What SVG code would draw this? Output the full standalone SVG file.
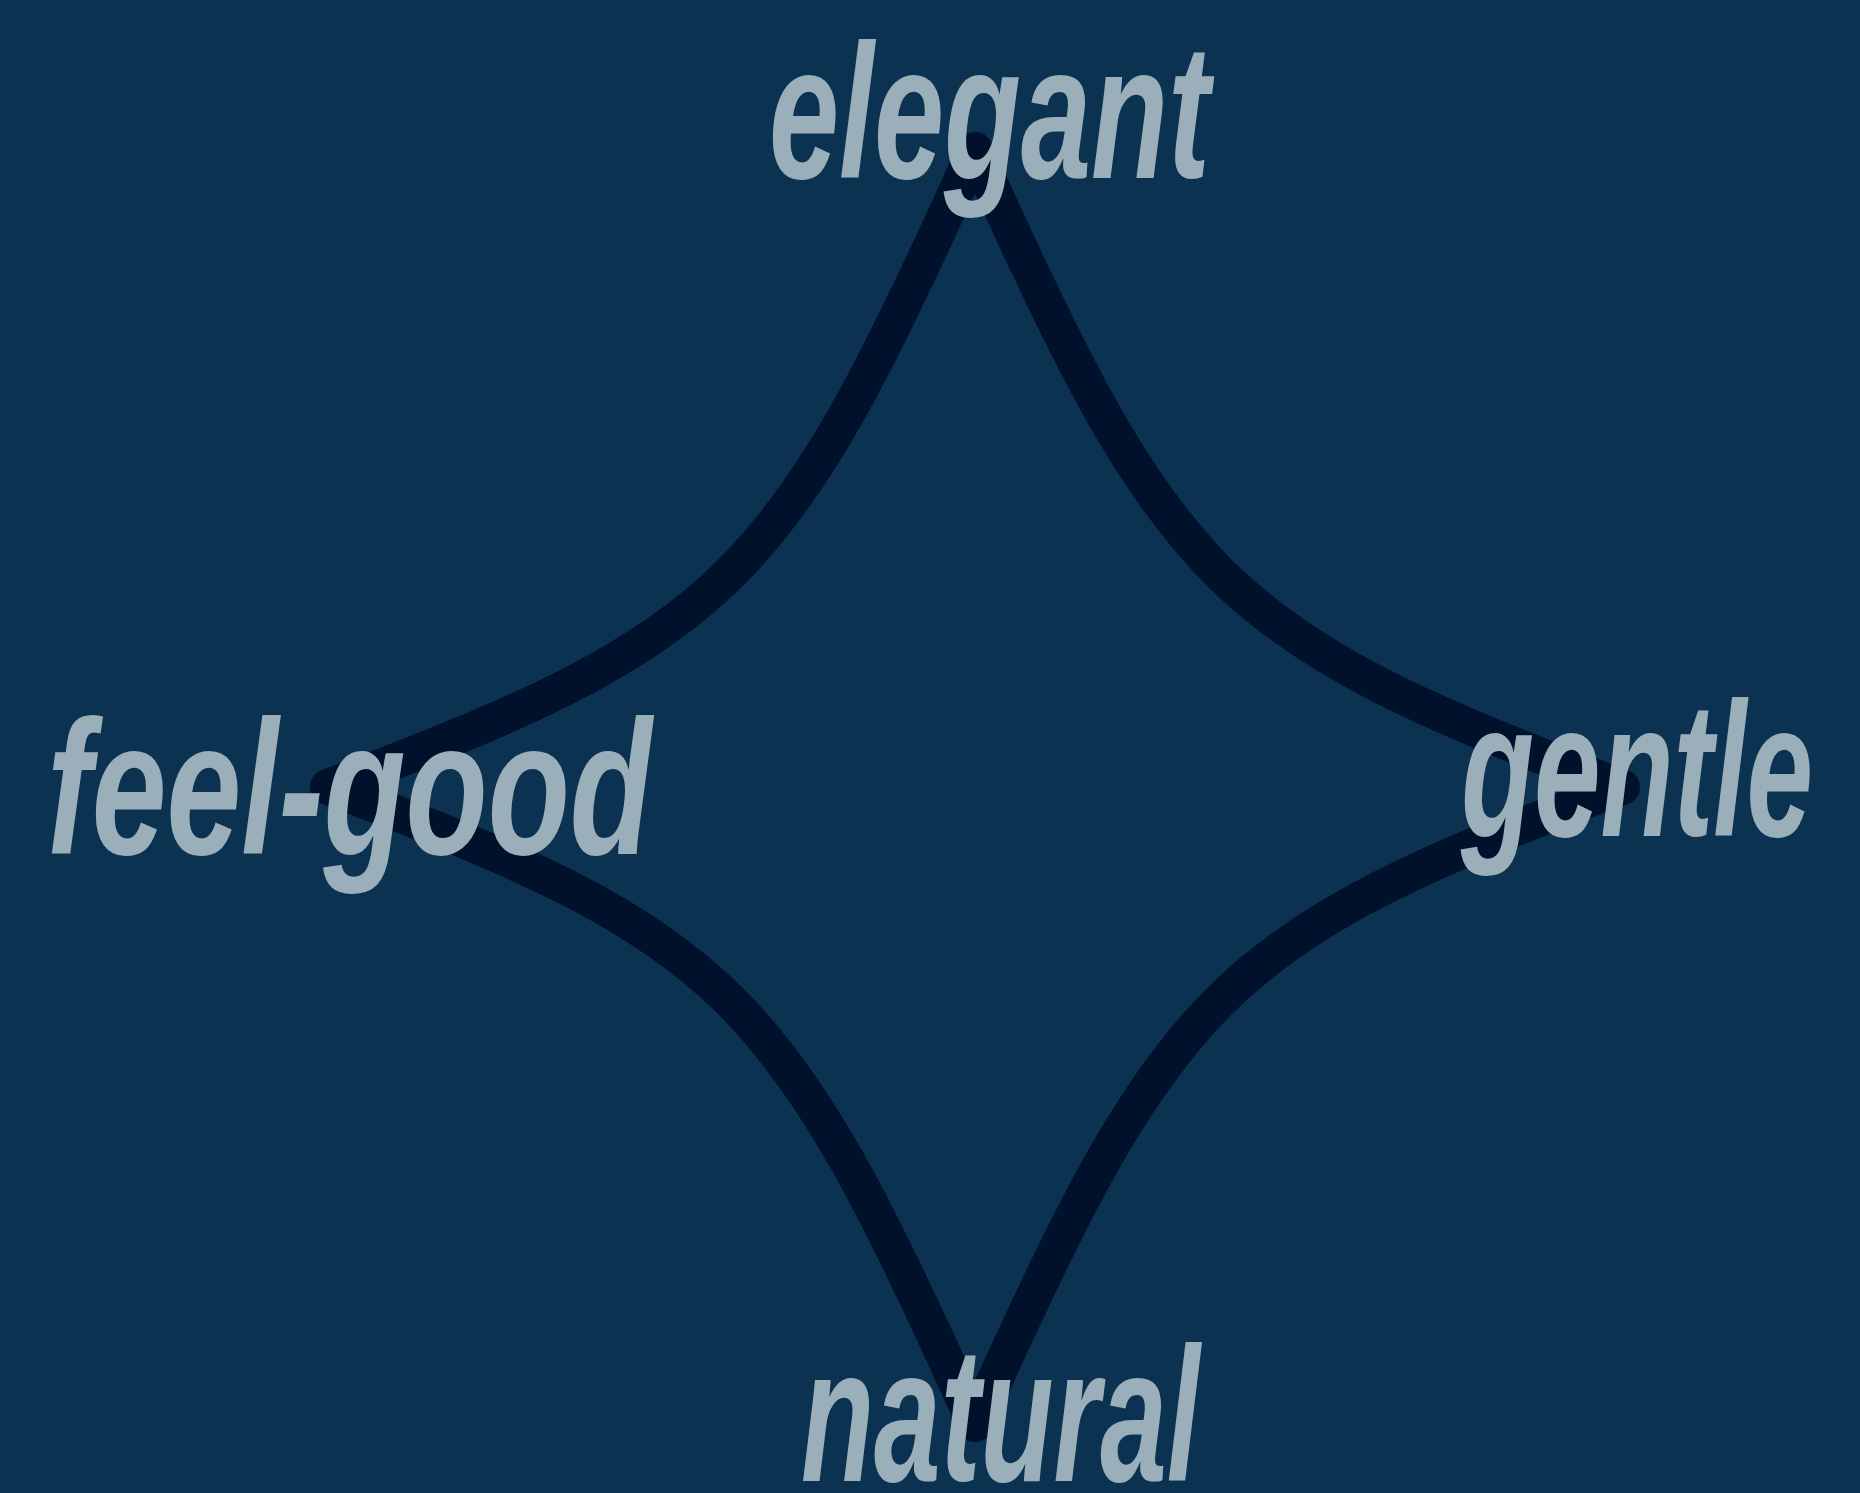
<svg xmlns="http://www.w3.org/2000/svg" width="1860" height="1493" viewBox="0 0 1860 1493">
<style>
.bg{fill:#0b3250}
.star{fill:none;stroke:#00112b;stroke-width:36;stroke-linejoin:round;stroke-linecap:round}
.lbl{fill:#9aafb9;font-family:"Liberation Sans","DejaVu Sans",sans-serif;font-size:192px;font-weight:bold;font-style:italic}
</style>
<rect class="bg" x="0" y="0" width="1860" height="1493"/>
<g id="connectors">
<path class="star" d="M 975 150 C 780 585, 728 636, 328 787 C 728 938, 780 989, 975 1424 C 1170 989, 1222 938, 1622 787 C 1222 636, 1170 585, 975 150 Z"/>
</g>
<g id="node-elegant"><text class="lbl" x="769" y="178" textLength="441" lengthAdjust="spacingAndGlyphs">elegant</text></g>
<g id="node-feel-good"><text class="lbl" x="47" y="854" textLength="605" lengthAdjust="spacingAndGlyphs">feel-good</text></g>
<g id="node-gentle"><text class="lbl" x="1461" y="836" textLength="352" lengthAdjust="spacingAndGlyphs">gentle</text></g>
<g id="node-natural"><text class="lbl" x="801" y="1481" textLength="399" lengthAdjust="spacingAndGlyphs">natural</text></g>
</svg>
